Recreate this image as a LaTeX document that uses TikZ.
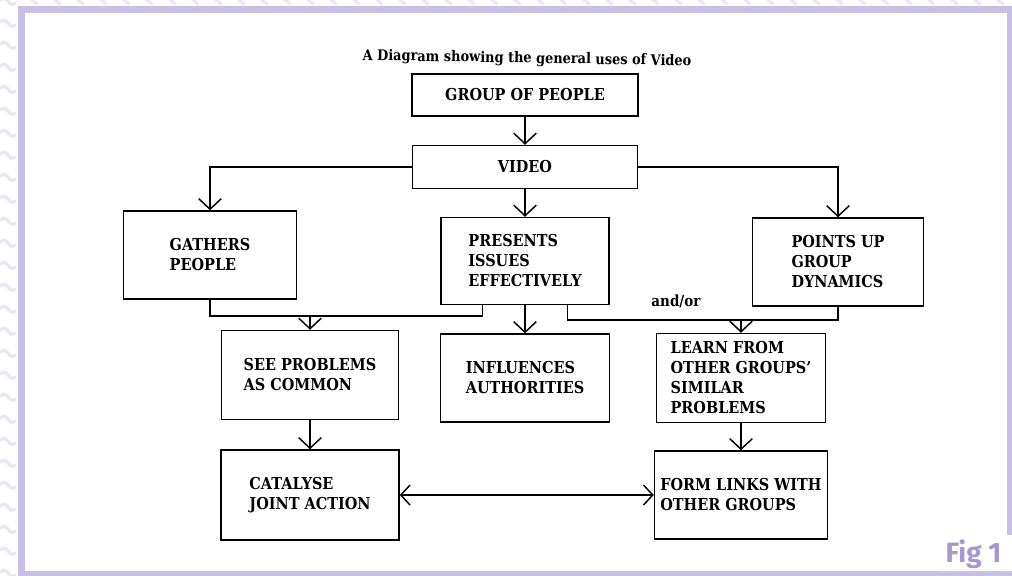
\documentclass[tikz,border=0pt]{standalone}
\usepackage{fontspec}
\newfontfamily\figfont{Fira Sans}
\newfontfamily\boxfont{DejaVu Serif}[FakeStretch=0.88]
\usetikzlibrary{arrows.meta,
	calc}
\definecolor{framecol}{RGB}{200,192,228}
\definecolor{wavecol}{RGB}{234,230,244}
\definecolor{figcol}{RGB}{166,150,210}

\begin{document}
\begin{tikzpicture}[x=0.75pt,y=-0.75pt]
      \tikzstyle{block}=[draw,line width=1.1pt,align=left,inner sep=0pt,font=\boxfont\fontsize{12.3}{15}\selectfont\bfseries]
      \tikzstyle{link}=[line width=1.1pt]
      \tikzstyle{arr}=[link,-{Straight Barb[length=8pt,width=17pt]}]
      \tikzstyle{wave}=[wavecol,line width=2.5pt,line cap=round]
      \useasboundingbox (0,0) rectangle (1012,575);
      % page behind the frame
      \foreach \y in {0,22,...,572} \draw[wave] (1,\y) .. controls (7,\y-7) and (9,\y+9) .. (15,\y+3);
      \foreach \x in {30,53,...,1012} \draw[wave] (\x,-2) -- (\x+7,4);
      \draw[framecol,line width=5.25pt] (21.5,9.5) rectangle (1010.5,574.5);
      \fill[white,rounded corners=6pt] (930,535) rectangle (1020,571);
      \node[font={\figfont\fontsize{21}{21}\selectfont\bfseries},text=figcol,anchor=base east] (fig) at (1006,562) {Fig 1};
      % boxes
      \node[font=\boxfont\fontsize{11}{13}\selectfont\bfseries,rotate=-1] (title) at (527,59) {A Diagram showing the general uses of Video};
      \node[block,minimum width=169.5pt,minimum height=31.5pt] (group) at (525,95) {GROUP OF PEOPLE};
      \node[block,minimum width=168.75pt,minimum height=32.25pt] (video) at (525,167) {VIDEO};
      \node[block,minimum width=129.75pt,minimum height=66pt] (gathers) at (210,255) {GATHERS\\PEOPLE};
      \node[block,minimum width=126pt,minimum height=65.25pt] (presents) at (525,261) {PRESENTS\\ISSUES\\EFFECTIVELY};
      \node[block,minimum width=128.25pt,minimum height=66pt] (points) at (838,262) {POINTS UP\\GROUP\\DYNAMICS};
      \node[block,minimum width=132.75pt,minimum height=66.75pt] (see) at (310,375) {SEE PROBLEMS\\AS COMMON};
      \node[block,minimum width=126.75pt,minimum height=66pt] (influences) at (525,378) {INFLUENCES\\AUTHORITIES};
      \node[block,minimum width=126.75pt,minimum height=66.75pt] (learn) at (741,378) {LEARN FROM\\OTHER GROUPS’\\SIMILAR\\PROBLEMS};
      \node[block,minimum width=133.5pt,minimum height=67.5pt] (catalyse) at (310,495) {CATALYSE\\JOINT ACTION};
      \node[block,minimum width=129.75pt,minimum height=66pt] (form) at (741,495) {FORM LINKS WITH\\OTHER GROUPS};
      \node[font=\boxfont\fontsize{11.5}{13}\selectfont\bfseries] (andor) at (676,301) {and/or};
      % connectors
      \coordinate (joinL) at (310,316);
      \coordinate (joinR) at (741,320);
      \draw[arr] (group) -- (video);
      \draw[arr] (video.west) -| (gathers.north);
      \draw[arr] (video.east) -| (points.north);
      \draw[arr] (video) -- (presents);
      \draw[link] (gathers.south) |- (joinL) -| ($(presents.south west)!0.25!(presents.south east)$);
      \draw[link] ($(presents.south west)!0.75!(presents.south east)$) |- (joinR) -| (points.south);
      \draw[arr] (joinL) -- (see);
      \draw[arr] (joinR) -- (learn);
      \draw[arr] (presents) -- (influences);
      \draw[arr] (see) -- (catalyse);
      \draw[arr] (learn) -- (form);
      \draw[link,{Straight Barb[length=7pt,width=15pt]}-{Straight Barb[length=7pt,width=15pt]}] (catalyse) -- (form);
    \end{tikzpicture}
\end{document}
